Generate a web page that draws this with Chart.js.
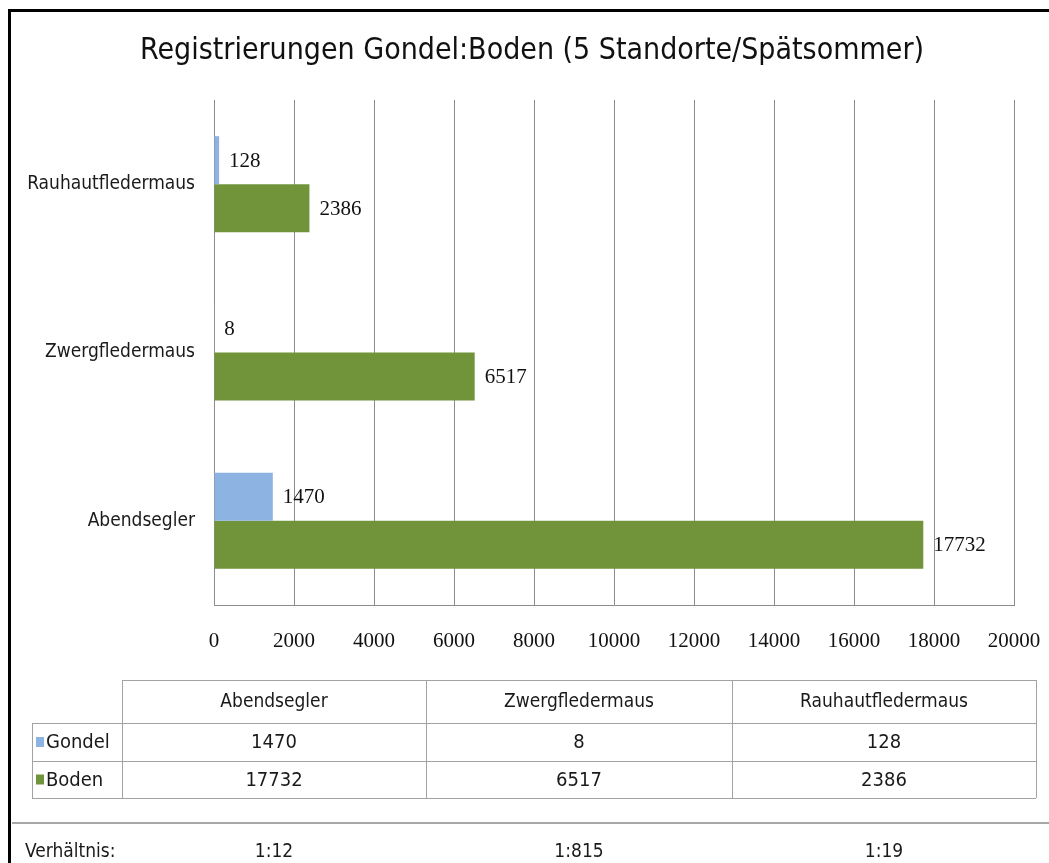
<!DOCTYPE html>
<html>
<head>
<meta charset="utf-8">
<title>Registrierungen Gondel:Boden</title>
<script src="https://cdn.jsdelivr.net/npm/chart.js@4.4.1/dist/chart.umd.min.js"></script>
<style>
  html, body { margin: 0; padding: 0; background: #fff; }
  #wrap { width: 1049px; height: 863px; }
</style>
</head>
<body>
<div id="wrap"><canvas id="myChart" width="1049" height="863"></canvas></div>
<script>
// Daten
const arten = ['Abendsegler', 'Zwergfledermaus', 'Rauhautfledermaus'];
const gondel = [1470, 8, 128];
const boden = [17732, 6517, 2386];
const verhaeltnis = ['1:12', '1:815', '1:19'];
const serien = ['Gondel', 'Boden'];
const farben = ['#8db3e2', '#71933a'];
const titel = 'Registrierungen Gondel:Boden (5 Standorte/Spätsommer)';

const SANS = "'Liberation Sans Narrow', 'DejaVu Sans Condensed', sans-serif";
const SERIF = "'Liberation Serif', serif";
const TEXT = '#1a1a1a';

// Rahmen + Titel
const rahmen = {
  id: 'rahmen',
  beforeDraw(chart) {
    const c = chart.ctx;
    c.save();
    c.fillStyle = '#fff';
    c.fillRect(0, 0, chart.width, chart.height);
    c.strokeStyle = '#000';
    c.lineWidth = 3;
    c.beginPath();
    c.moveTo(9.5, chart.height);
    c.lineTo(9.5, 10.5);
    c.lineTo(chart.width, 10.5);
    c.stroke();
    c.font = '30px ' + SANS;
    c.fillStyle = '#111';
    c.textAlign = 'center';
    c.textBaseline = 'middle';
    c.fillText(titel, 532, 51);
    c.restore();
  }
};

// Werte rechts neben den Balken
const wertLabels = {
  id: 'wertLabels',
  afterDatasetsDraw(chart) {
    const c = chart.ctx;
    c.save();
    c.font = '21px ' + SERIF;
    c.fillStyle = '#111';
    c.textAlign = 'left';
    c.textBaseline = 'middle';
    chart.data.datasets.forEach((ds, i) => {
      chart.getDatasetMeta(i).data.forEach((bar, j) => {
        c.fillText(String(ds.data[j]), bar.x + 10, bar.y + 1);
      });
    });
    c.restore();
  }
};

// Datentabelle unter dem Diagramm
const tabelle = {
  id: 'tabelle',
  afterDraw(chart) {
    const c = chart.ctx;
    const cols = [32, 122, 426, 732, 1036];
    const rows = [680, 723, 761, 798];
    const werte = [gondel, boden];
    const line = (x1, y1, x2, y2) => {
      c.beginPath(); c.moveTo(x1, y1); c.lineTo(x2, y2); c.stroke();
    };
    c.save();
    c.strokeStyle = '#a3a3a3';
    c.lineWidth = 1;
    line(cols[1], rows[0] + 0.5, cols[4], rows[0] + 0.5);
    for (let r = 1; r < rows.length; r++) line(cols[0], rows[r] + 0.5, cols[4], rows[r] + 0.5);
    line(cols[0] + 0.5, rows[1], cols[0] + 0.5, rows[3]);
    for (let k = 1; k < cols.length; k++) line(cols[k] + 0.5, rows[0], cols[k] + 0.5, rows[3]);

    c.font = '19px ' + SANS;
    c.fillStyle = TEXT;
    c.textBaseline = 'middle';
    c.textAlign = 'center';
    arten.forEach((a, i) => {
      const cx = (cols[i + 1] + cols[i + 2]) / 2;
      c.fillText(a, cx, (rows[0] + rows[1]) / 2 + 1);
    });
    c.font = '20px ' + SANS;
    arten.forEach((a, i) => {
      const cx = (cols[i + 1] + cols[i + 2]) / 2;
      werte.forEach((w, s) => {
        c.fillText(String(w[i]), cx, (rows[s + 1] + rows[s + 2]) / 2 + 1);
      });
    });
    serien.forEach((name, s) => {
      const cy = (rows[s + 1] + rows[s + 2]) / 2;
      c.fillStyle = farben[s];
      c.fillRect(36, cy - 5, 8, 10);
      c.fillStyle = TEXT;
      c.textAlign = 'left';
      c.fillText(name, 46, cy + 1);
    });

    // Verhältnis
    c.strokeStyle = '#a8a8a8';
    c.lineWidth = 2;
    line(12, 823, chart.width, 823);
    c.font = '19px ' + SANS;
    c.textAlign = 'left';
    c.fillText('Verhältnis:', 25, 852);
    c.textAlign = 'center';
    verhaeltnis.forEach((v, i) => {
      c.fillText(v, (cols[i + 1] + cols[i + 2]) / 2, 852);
    });
    c.restore();
  }
};

const ctx = document.getElementById('myChart');
const myChart = new Chart(ctx, {
  type: 'bar',
  data: {
    labels: arten,
    datasets: [
      { label: serien[0], data: gondel, backgroundColor: farben[0] },
      { label: serien[1], data: boden, backgroundColor: farben[1] }
    ]
  },
  options: {
    indexAxis: 'y',
    responsive: false,
    animation: false,
    categoryPercentage: 0.57,
    barPercentage: 1.0,
    layout: { padding: { left: 0, right: 35, top: 100, bottom: 198 } },
    scales: {
      x: {
        min: 0,
        max: 20000,
        ticks: {
          stepSize: 2000,
          callback: v => String(v),
          font: { family: SERIF, size: 21 },
          color: '#111',
          padding: 24,
          maxRotation: 0
        },
        grid: { color: '#8c8c8c', drawTicks: false },
        border: { color: '#8c8c8c' },
        afterFit: s => { s.height = 60; s.paddingLeft = 0; s.paddingRight = 0; }
      },
      y: {
        reverse: true,
        grid: { display: false, drawTicks: false },
        border: { color: '#8c8c8c' },
        ticks: {
          font: { family: SANS, size: 19 },
          color: TEXT,
          padding: 19
        },
        afterFit: s => { s.width = 214; }
      }
    },
    plugins: {
      legend: { display: false },
      tooltip: { enabled: false },
      title: { display: false }
    }
  },
  plugins: [rahmen, wertLabels, tabelle]
});
</script>
</body>
</html>
